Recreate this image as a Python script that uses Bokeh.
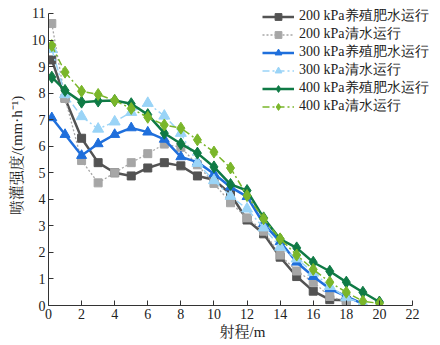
from bokeh.plotting import figure
from bokeh.models import Range1d, FixedTicker, Legend, LegendItem
from bokeh.embed import file_html
from bokeh.resources import INLINE

# Data
x_all = [0.2, 1, 2, 3, 4, 5, 6, 7, 8, 9, 10, 11, 12, 13, 14, 15, 16, 17, 18, 19, 20]

s200_fei = [9.25, 7.8, 6.3, 5.38, 5.0, 4.88, 5.18, 5.38, 5.26, 4.88, 4.74, 4.2, 3.22, 2.7, 1.82, 1.09, 0.54, 0.22, 0.2]
s200_qing = [10.62, 7.8, 5.46, 4.62, 5.0, 5.38, 5.72, 6.08, 5.96, 5.3, 4.6, 3.87, 3.3, 2.8, 1.9, 1.3, 0.88, 0.34, 0.15]
s300_fei = [7.07, 6.44, 5.65, 6.09, 6.44, 6.69, 6.53, 6.26, 5.6, 5.4, 4.96, 4.46, 4.1, 3.08, 2.4, 1.63, 1.09, 0.63, 0.34, 0.06]
s300_qing = [9.65, 7.95, 7.12, 6.65, 6.92, 7.28, 7.62, 7.14, 6.49, 5.36, 4.71, 4.12, 3.64, 2.93, 2.2, 1.76, 1.25, 0.72, 0.3, 0.08]
s400_fei = [8.6, 8.1, 7.66, 7.7, 7.72, 7.6, 7.19, 6.49, 6.09, 5.74, 5.22, 4.56, 4.33, 3.3, 2.5, 2.17, 1.63, 1.29, 0.88, 0.5, 0.13]
s400_qing = [9.79, 8.79, 8.07, 7.95, 7.72, 7.42, 7.09, 6.8, 6.68, 6.24, 5.78, 5.18, 4.14, 3.27, 2.51, 1.9, 1.36, 0.88, 0.5, 0.16, 0.08]

labels = ["200 kPa养殖肥水运行", "200 kPa清水运行", "300 kPa养殖肥水运行",
          "300 kPa清水运行", "400 kPa养殖肥水运行", "400 kPa清水运行"]

x_ticks = [0, 2, 4, 6, 8, 10, 12, 14, 16, 18, 20, 22]
y_ticks = [0, 1, 2, 3, 4, 5, 6, 7, 8, 9, 10, 11]

FONT = "Times New Roman, Liberation Serif, Noto Serif CJK SC, Noto Sans CJK SC, serif"

p = figure(width=438, height=343, output_backend="svg", toolbar_location=None,
           x_range=Range1d(0, 23.45), y_range=Range1d(0, 11.3),
           min_border_left=48, min_border_right=2, min_border_top=5, min_border_bottom=38)
p.outline_line_color = None
p.xgrid.visible = False
p.ygrid.visible = False

for ax in (p.xaxis[0], p.yaxis[0]):
    ax.major_tick_in = 5
    ax.major_tick_out = 0
    ax.minor_tick_line_color = None
    ax.axis_line_color = "#333333"
    ax.major_tick_line_color = "#333333"
    ax.major_label_text_font = FONT
    ax.major_label_text_font_size = "14px"
    ax.major_label_text_color = "#222222"
    ax.axis_label_text_font = FONT
    ax.axis_label_text_font_size = "15px"
    ax.axis_label_text_font_style = "normal"
    ax.axis_label_text_color = "#222222"
    ax.major_label_standoff = 3

p.xaxis.ticker = FixedTicker(ticks=x_ticks)
p.yaxis.ticker = FixedTicker(ticks=y_ticks)
p.xaxis.bounds = (0, 22)
p.yaxis.bounds = (0, 11)
p.xaxis.axis_label = "射程/m"
p.yaxis.axis_label = "喷灌强度/(mm·h⁻¹)"
p.xaxis.axis_label_standoff = 2
p.yaxis.axis_label_standoff = 4

series = [
    (s200_fei, "#535353", "solid", 2.5, "square", 8),
    (s200_qing, "#a6a6a6", "2 2", 1.3, "square", 8),
    (s300_fei, "#1f6fdc", "solid", 2.5, "triangle", 10),
    (s300_qing, "#9ad4f7", "7 3 2 3", 1.5, "triangle", 11),
    (s400_fei, "#0f7a45", "solid", 2.5, "diamond", 12),
    (s400_qing, "#7ab62a", "7 3 2 3", 1.5, "diamond", 12),
]

items = []
for (ys, col, dash, lw, mk, sz), lab in zip(series, labels):
    xs = x_all[:len(ys)]
    r1 = p.line(xs, ys, line_color=col, line_width=lw, line_dash=dash)
    r2 = p.scatter(xs, ys, marker=mk, size=sz, fill_color=col, line_color=col)
    items.append(LegendItem(label=lab, renderers=[r1, r2]))

legend = Legend(items=items, location=(214, 190))
legend.label_text_font = "Liberation Serif"
legend.label_text_font_size = "14px"
legend.label_text_line_height = 1.0
legend.label_text_color = "#222222"
legend.glyph_width = 32
legend.glyph_height = 17
legend.label_height = 17
legend.label_standoff = 5
legend.spacing = 0
legend.padding = 0
legend.margin = 0
legend.border_line_color = None
legend.background_fill_alpha = 0
p.add_layout(legend, "center")

open("out.html", "w").write(file_html(p, INLINE))
